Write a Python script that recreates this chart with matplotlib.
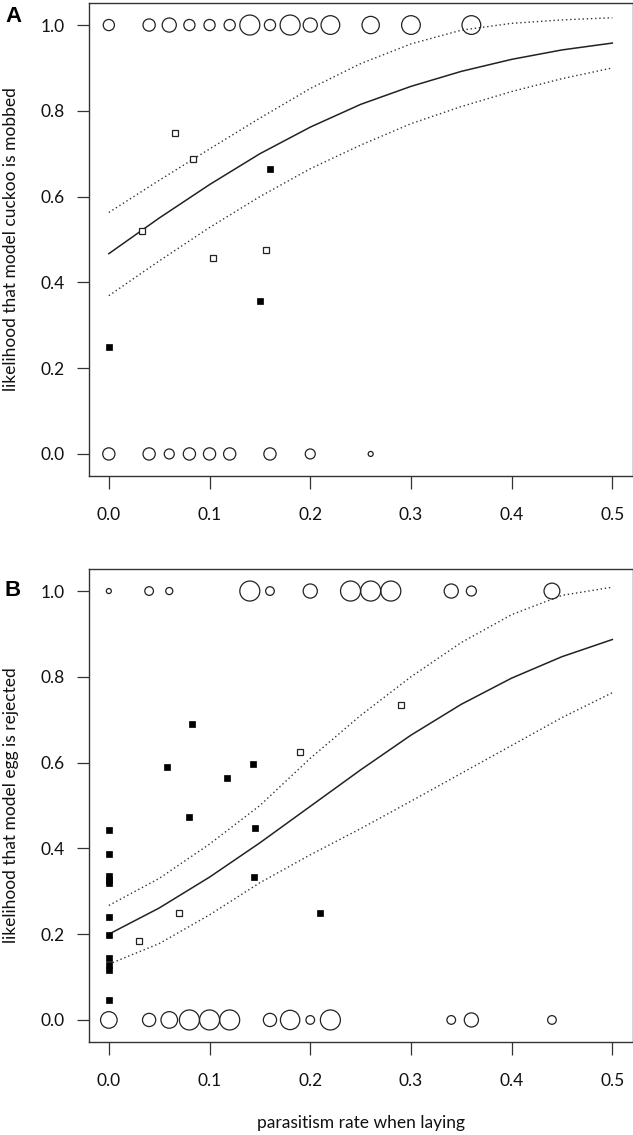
import numpy as np
import matplotlib
matplotlib.use("Agg")
import matplotlib.pyplot as plt

plt.rcParams['font.family'] = ['Lato', 'DejaVu Sans']

# ---------------- data: panel A (mobbing) ----------------
A_top_x = [0.00, 0.04, 0.06, 0.08, 0.10, 0.12, 0.14, 0.16, 0.18, 0.20, 0.22, 0.26, 0.30, 0.36]
A_top_n = [5, 6, 8, 5, 5, 5, 16, 5, 16, 8, 14, 12, 14, 14]
A_bot_x = [0.00, 0.04, 0.06, 0.08, 0.10, 0.12, 0.16, 0.20, 0.26]
A_bot_n = [6, 6, 4, 6, 6, 6, 6, 4, 1]
A_open_x = [0.033, 0.066, 0.084, 0.103, 0.156]
A_open_y = [0.519, 0.749, 0.687, 0.457, 0.475]
A_fill_x = [0.000, 0.150, 0.160]
A_fill_y = [0.249, 0.356, 0.665]
curve_x = [0.00, 0.05, 0.10, 0.15, 0.20, 0.25, 0.30, 0.35, 0.40, 0.45, 0.50]
A_fit = [0.467, 0.550, 0.628, 0.700, 0.762, 0.815, 0.857, 0.892, 0.920, 0.942, 0.958]
A_upr = [0.563, 0.638, 0.711, 0.783, 0.852, 0.910, 0.956, 0.988, 1.004, 1.012, 1.017]
A_lwr = [0.369, 0.450, 0.528, 0.600, 0.665, 0.720, 0.770, 0.810, 0.845, 0.875, 0.900]

# ---------------- data: panel B (egg rejection) ----------------
B_top_x = [0.00, 0.04, 0.06, 0.14, 0.16, 0.20, 0.24, 0.26, 0.28, 0.34, 0.36, 0.44]
B_top_n = [1, 3, 2, 16, 3, 8, 16, 16, 16, 8, 4, 10]
B_bot_x = [0.00, 0.04, 0.06, 0.08, 0.10, 0.12, 0.16, 0.18, 0.20, 0.22, 0.34, 0.36, 0.44]
B_bot_n = [11, 7, 11, 16, 16, 16, 7, 15, 3, 16, 3, 8, 3]
B_open_x = [0.030, 0.070, 0.190, 0.290]
B_open_y = [0.185, 0.250, 0.625, 0.735]
B_fill_x = [0.0, 0.0, 0.0, 0.0, 0.0, 0.0, 0.0, 0.0, 0.0, 0.0, 0.0,
            0.058, 0.080, 0.083, 0.117, 0.143, 0.145, 0.144, 0.210]
B_fill_y = [0.444, 0.388, 0.335, 0.327, 0.320, 0.240, 0.199, 0.145, 0.128, 0.117, 0.047,
            0.590, 0.473, 0.690, 0.563, 0.596, 0.448, 0.333, 0.250]
B_fit = [0.200, 0.261, 0.333, 0.413, 0.498, 0.583, 0.664, 0.736, 0.797, 0.847, 0.887]
B_upr = [0.267, 0.330, 0.410, 0.500, 0.610, 0.710, 0.800, 0.880, 0.945, 0.990, 1.009]
B_lwr = [0.130, 0.178, 0.245, 0.320, 0.385, 0.446, 0.510, 0.575, 0.640, 0.705, 0.763]

xticks = [0.0, 0.1, 0.2, 0.3, 0.4, 0.5]
yticks = [0.0, 0.2, 0.4, 0.6, 0.8, 1.0]
ylabels = ["likelihood that model cuckoo is mobbed", "likelihood that model egg is rejected"]
panel_letters = ["A", "B"]
xlabel = "parasitism rate when laying"

W, H = 633, 1135
DPI = 100
fig = plt.figure(figsize=(W / DPI, H / DPI), dpi=DPI)

dark = '#222222'

def circ_size(n):
    # marker radius in px = 2.5*sqrt(n)  -> scatter area in pt^2
    r_px = 2.5 * np.sqrt(np.asarray(n, dtype=float))
    d_pt = 2 * r_px * 72.0 / DPI
    return d_pt ** 2

def make_panel(rect, top_x, top_n, bot_x, bot_n, ox, oy, fx, fy, fit, upr, lwr, ylab, show_xlabel):
    ax = fig.add_axes(rect)
    ax.scatter(top_x, np.ones(len(top_x)), s=circ_size(top_n), facecolors='none',
               edgecolors=dark, linewidths=0.9, zorder=3)
    ax.scatter(bot_x, np.zeros(len(bot_x)), s=circ_size(bot_n), facecolors='none',
               edgecolors=dark, linewidths=0.9, zorder=3)
    ax.plot(ox, oy, linestyle='none', marker='s', markersize=4.8, markerfacecolor='white',
            markeredgecolor=dark, markeredgewidth=0.9, zorder=4)
    ax.plot(fx, fy, linestyle='none', marker='s', markersize=5.0, markerfacecolor='black',
            markeredgecolor='black', markeredgewidth=0.5, zorder=4)
    ax.plot(curve_x, fit, color=dark, linewidth=1.1, zorder=2)
    ax.plot(curve_x, upr, color='#333333', linewidth=1.0, linestyle=(0, (1.0, 2.0)), zorder=2)
    ax.plot(curve_x, lwr, color='#333333', linewidth=1.0, linestyle=(0, (1.0, 2.0)), zorder=2)
    ax.set_xlim(-0.02, 0.52)
    ax.set_ylim(-0.0514, 1.0514)
    ax.set_xticks(xticks)
    ax.set_xticklabels([f"{v:.1f}" for v in xticks])
    ax.set_yticks(yticks)
    ax.set_yticklabels([f"{v:.1f}" for v in yticks])
    ax.tick_params(axis='both', direction='out', length=9, width=0.9, color='#333333',
                   labelsize=12.5, labelcolor='#111111')
    ax.tick_params(axis='x', pad=13)
    ax.tick_params(axis='y', pad=8)
    for sp in ax.spines.values():
        sp.set_linewidth(1.0)
        sp.set_color('#333333')
    ax.set_ylabel(ylab, fontsize=12.5, color='#111111')
    ax.yaxis.set_label_coords(-0.129, 0.5)
    if show_xlabel:
        ax.set_xlabel(xlabel, fontsize=12.5, color='#111111')
        ax.xaxis.set_label_coords(0.5, -0.155)
    return ax

left = 88.7 / W
width = (632.5 - 88.7) / W
hA = (476 - 3) / H
axA = make_panel([left, 1 - 476 / H, width, hA], A_top_x, A_top_n, A_bot_x, A_bot_n,
                 A_open_x, A_open_y, A_fill_x, A_fill_y, A_fit, A_upr, A_lwr,
                 ylabels[0], False)
hB = (1042 - 569) / H
axB = make_panel([left, 1 - 1042 / H, width, hB], B_top_x, B_top_n, B_bot_x, B_bot_n,
                 B_open_x, B_open_y, B_fill_x, B_fill_y, B_fit, B_upr, B_lwr,
                 ylabels[1], True)

fig.text(13 / W, 1 - 17 / H, panel_letters[0], fontsize=16, fontweight='bold',
         ha='center', va='center', family=['Liberation Sans', 'DejaVu Sans'])
fig.text(13 / W, 1 - 591 / H, panel_letters[1], fontsize=16, fontweight='bold',
         ha='center', va='center', family=['Liberation Sans', 'DejaVu Sans'])

fig.savefig("out.png", dpi=DPI)
